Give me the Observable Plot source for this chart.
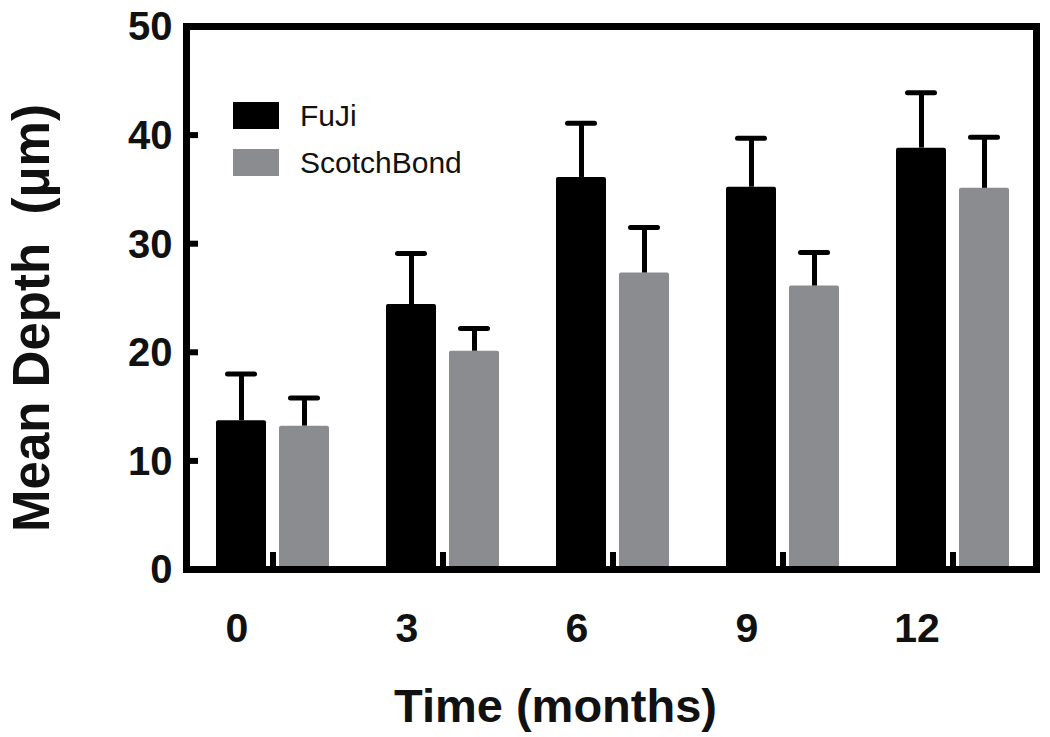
<!DOCTYPE html>
<html>
<head>
<meta charset="utf-8">
<script src="https://cdn.jsdelivr.net/npm/d3@7"></script>
<script src="https://cdn.jsdelivr.net/npm/@observablehq/plot@0.6"></script>
<style>
  html, body { margin: 0; padding: 0; background: #fff; }
  #wrap { position: relative; width: 1050px; height: 737px; font-family: "Liberation Sans", Arial, sans-serif; }
  #legend { position: absolute; left: 233px; top: 92px; font-size: 30px; color: #111; }
  .row { display: flex; align-items: center; height: 47px; }
  .sw { width: 46px; height: 27px; margin-right: 21px; }
</style>
</head>
<body>
<div id="wrap"></div>
<script>
// ---- data ----
const months = ["0", "3", "6", "9", "12"];
const seriesNames = ["FuJi", "ScotchBond"];
const seriesColors = ["#000000", "#8b8c90"];
const fujiMean = [13.7, 24.4, 36.1, 35.2, 38.8];
const fujiErr = [4.3, 4.7, 5.0, 4.5, 5.1];
const scotchMean = [13.2, 20.1, 27.3, 26.1, 35.1];
const scotchErr = [2.6, 2.1, 4.2, 3.1, 4.7];
const yTicks = [0, 10, 20, 30, 40, 50];
const xTitle = "Time (months)";
const yTitle = "Mean Depth  (\u03bcm)";

const fuji = months.map((m, i) => ({month: m, value: fujiMean[i], upper: fujiMean[i] + fujiErr[i]}));
const scotch = months.map((m, i) => ({month: m, value: scotchMean[i], upper: scotchMean[i] + scotchErr[i]}));

const W = 1050, H = 737;
const mL = 186, mR = 14, mT = 26, mB = 168;
const frameW = W - mL - mR, frameH = H - mT - mB;
const half = 63;   // half of the group width + gap offset (px)
const font = "Liberation Sans, Arial, sans-serif";

const chart = Plot.plot({
  width: W,
  height: H,
  marginLeft: mL,
  marginRight: mR,
  marginTop: mT,
  marginBottom: mB,
  style: {fontFamily: font, background: "white", overflow: "visible"},
  x: {type: "band", domain: months, range: [mL + 2, W - mR + 2], paddingInner: 0.335, paddingOuter: 0.1675, axis: null},
  y: {domain: [0, 50], axis: null},
  marks: [
    Plot.barY(fuji, {x: "month", y: "value", fill: seriesColors[0], insetRight: half, rx: 2}),
    Plot.barY(scotch, {x: "month", y: "value", fill: seriesColors[1], insetLeft: half, rx: 2}),
    Plot.ruleX(fuji, {x: "month", y1: "value", y2: "upper", dx: -31.5, stroke: "black", strokeWidth: 5}),
    Plot.ruleX(scotch, {x: "month", y1: "value", y2: "upper", dx: 31.5, stroke: "black", strokeWidth: 5}),
    Plot.tickY(fuji, {x: "month", y: "upper", insetLeft: 11.5, insetRight: 74.5, stroke: "black", strokeWidth: 5, strokeLinecap: "round"}),
    Plot.tickY(scotch, {x: "month", y: "upper", insetLeft: 74.5, insetRight: 11.5, stroke: "black", strokeWidth: 5, strokeLinecap: "round"}),
    // inward y ticks
    Plot.ruleY(yTicks, {y: d => d, insetRight: frameW - 12, stroke: "black", strokeWidth: 6}),
    // small x ticks at category centers
    Plot.ruleX(months, {x: d => d, insetTop: frameH - 17, stroke: "black", strokeWidth: 6}),
    Plot.frame({stroke: "black", strokeWidth: 7}),
    // y tick labels
    Plot.text(yTicks, {y: d => d, text: d => String(d), frameAnchor: "left", textAnchor: "end", dx: -14, dy: 1, fontSize: 40, fontWeight: "bold", fill: "#111"}),
    // x tick labels (under the FuJi bars)
    Plot.text(months, {x: d => d, text: d => d, frameAnchor: "bottom", lineAnchor: "middle", dx: -36, dy: 59, fontSize: 41, fontWeight: "bold", fill: "#111"}),
    // axis titles
    Plot.text([xTitle], {text: d => d, frameAnchor: "bottom", textAnchor: "middle", lineAnchor: "middle", dx: -56, dy: 137, fontSize: 47, fontWeight: "bold", fill: "#111"}),
    Plot.text([yTitle], {text: d => d, frameAnchor: "left", textAnchor: "middle", lineAnchor: "middle", rotate: -90, dx: -154, dy: 20, fontSize: 51, fontWeight: "bold", fill: "#111"})
  ]
});

const wrap = document.getElementById("wrap");
wrap.appendChild(chart);

const legend = document.createElement("div");
legend.id = "legend";
seriesNames.forEach((name, i) => {
  const row = document.createElement("div");
  row.className = "row";
  const sw = document.createElement("div");
  sw.className = "sw";
  sw.style.background = seriesColors[i];
  const lab = document.createElement("span");
  lab.textContent = name;
  row.appendChild(sw);
  row.appendChild(lab);
  legend.appendChild(row);
});
wrap.appendChild(legend);
</script>
</body>
</html>
